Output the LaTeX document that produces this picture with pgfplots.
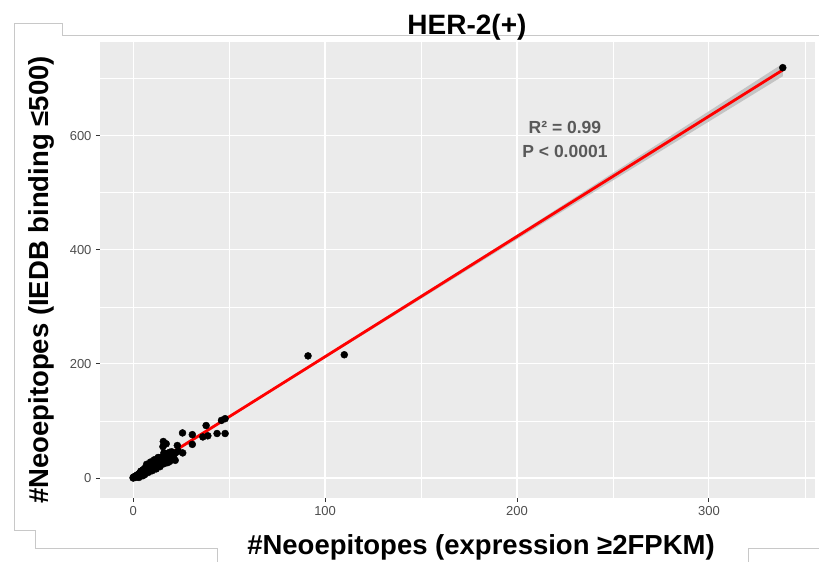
\documentclass[border=0pt]{standalone}
\usepackage{pgfplots}
\pgfplotsset{compat=1.18}
\usepackage{fontspec}
\setmainfont{Liberation Sans}
\definecolor{panel}{HTML}{EBEBEB}
\definecolor{ticklab}{HTML}{4D4D4D}
\definecolor{tickcol}{HTML}{333333}
\definecolor{annot}{HTML}{595959}
\definecolor{framecol}{HTML}{C8C8C8}
\definecolor{band}{HTML}{C4C4C4}
\begin{document}
\begin{tikzpicture}[x=1pt,y=1pt]
\path[use as bounding box] (0,0) rectangle (819,562);
% screenshot frame lines
\draw[framecol, line width=1pt] (819,526) -- (62,526) -- (62,538) -- (14.5,538) -- (14.5,31) -- (35.5,31) -- (35.5,13) -- (217,13) -- (217,0);
\draw[framecol, line width=1pt] (819,13) -- (748,13) -- (748,0);

\begin{axis}[
    at={(100pt,64pt)}, anchor=south west,
    scale only axis, width=715pt, height=456pt,
    xmin=-17.3, xmax=355.3, ymin=-35, ymax=764,
    axis background/.style={fill=panel},
    axis line style={draw=none},
    xtick={0,100,200,300}, ytick={0,200,400,600},
    minor xtick={50,150,250,350}, minor ytick={100,300,500,700},
    grid=both,
    major grid style={white, line width=1.2pt},
    minor grid style={white, line width=0.6pt},
    tick align=outside, xtick pos=bottom, ytick pos=left,
    major tick length=4pt, minor tick length=0pt,
    tick style={color=tickcol, line width=0.8pt},
    /pgf/number format/assume math mode=true,
    ticklabel style={font=\fontsize{13}{14}\selectfont, text=ticklab},
    xticklabel style={yshift=-1pt},
    yticklabel style={xshift=-1pt},
]
% confidence band
\addplot[fill=band, draw=none] coordinates {
(0,-2) (60,126.4) (200,418.4) (338.5,704) (338.5,726) (200,426.4) (60,130.4) (0,6)} -- cycle;
% points
\addplot[only marks, mark=*, mark size=3.5pt, black] coordinates {
(0,0) (0,1) (0.5,2) (1,1) (1,3) (1.5,4) (2,2) (2,5) (2.5,6) (3,4) (3,7) (3,1)
(3.5,9) (4,6) (4,9) (4,12) (4.5,8) (5,4) (5,8) (5,11) (5,14) (5.5,15)
(6,6) (6,10) (6,13) (6,17) (6.5,12) (7,12) (7,15) (7,19) (7.5,14)
(8,10) (8,14) (8,17) (8,21) (8.5,19) (9,16) (9,20) (9,23) (9.5,18)
(10,13) (10,18) (10,21) (10,25) (10.5,24) (11,20) (11,23) (11,27)
(12,16) (12,22) (12,25) (12,29) (12.5,31) (13,24) (13,27) (13,31)
(14,20) (14,26) (14,29) (14,34) (14.5,36) (15,28) (15,31) (15,36)
(16,25) (16,30) (16,34) (16,39) (17,27) (17,33) (17,41) (18,35) (18,38) (18,43)
(19,29) (19,36) (19,45) (20,40) (20,46) (21,37) (22,44)
(7,24) (9,28) (11,32) (13,36) (16,44) (18,27) (20,33)
(15.5,55) (15.7,64) (17.2,60) (23,57) (23.5,47) (21.9,31) (25.8,44)
(25.7,79) (30.8,76) (30.8,59) (36.3,72) (38.9,74) (38,92)
(43.7,78) (47.9,78) (46,101) (47.9,104)
(91.1,214) (110,216) (338.5,719)
};
% regression line
\addplot[red, line width=2.8pt] coordinates {(0,2) (338.5,715)};
\node[font=\bfseries\fontsize{17.5}{24}\selectfont, text=annot, align=center] at (axis cs:225,593) {R² = 0.99\\P < 0.0001};
\end{axis}

\node[anchor=base, font=\bfseries\fontsize{28}{30}\selectfont] at (467,527) {HER-2(+)};
\node[anchor=base, font=\bfseries\fontsize{27.5}{30}\selectfont] at (481,7) {\#Neoepitopes (expression ≥2FPKM)};
\node[anchor=base, rotate=90, font=\bfseries\fontsize{27.5}{30}\selectfont] at (48,282) {\#Neoepitopes (IEDB binding ≤500)};
\end{tikzpicture}
\end{document}
